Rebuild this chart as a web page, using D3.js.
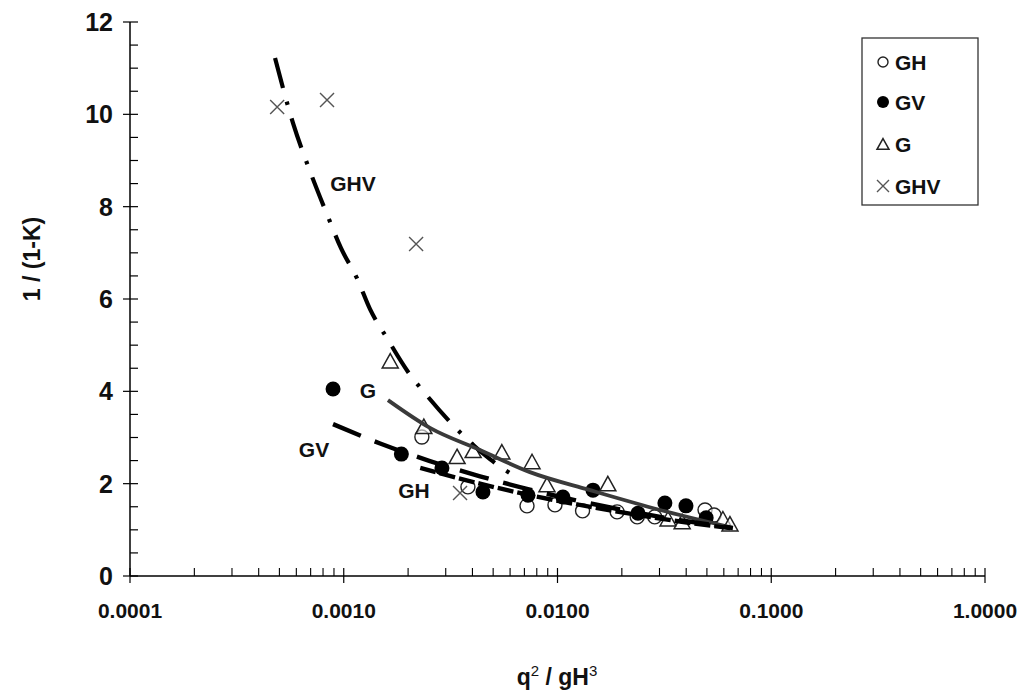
<!DOCTYPE html>
<html>
<head>
<meta charset="utf-8">
<script src="https://cdn.jsdelivr.net/npm/d3@7"></script>
<style>
  html, body { margin: 0; padding: 0; background: #fff; }
  svg text { font-family: "Liberation Sans", Arial, sans-serif; font-weight: bold; fill: #111; }
</style>
</head>
<body>
<svg id="chart" width="1023" height="691"></svg>
<script>
// ---- data ----
const ghX = [0.00232, 0.00381, 0.0072, 0.00973, 0.0131, 0.019, 0.0236, 0.0285, 0.049, 0.054];
const ghY = [3.01, 1.93, 1.52, 1.54, 1.41, 1.39, 1.28, 1.28, 1.43, 1.32];

const gvX = [0.000891, 0.00186, 0.00288, 0.00448, 0.00728, 0.0106, 0.01466, 0.0238, 0.0318, 0.0399, 0.0496];
const gvY = [4.05, 2.64, 2.34, 1.82, 1.75, 1.71, 1.86, 1.36, 1.58, 1.52, 1.26];

const gX = [0.00165, 0.00237, 0.00339, 0.00403, 0.00549, 0.0076, 0.00893, 0.0172, 0.0329, 0.0383, 0.0594, 0.0641];
const gY = [4.63, 3.21, 2.56, 2.69, 2.66, 2.45, 1.95, 1.97, 1.21, 1.15, 1.21, 1.10];

const ghvX = [0.000488, 0.000835, 0.00218, 0.0035];
const ghvY = [10.16, 10.31, 7.19, 1.80];

// trend curves
const ghvFitX = [0.000477, 0.000579, 0.000695, 0.000844, 0.000971, 0.001153, 0.001327, 0.001594, 0.0020, 0.002478, 0.00361, 0.00483, 0.00653];
const ghvFitY = [11.22, 9.81, 8.77, 7.78, 7.10, 6.45, 5.78, 5.15, 4.42, 3.88, 3.05, 2.53, 2.12];

const gFitX = [0.00161, 0.00253, 0.00434, 0.00743, 0.0142, 0.0302, 0.0641];
const gFitY = [3.81, 3.21, 2.73, 2.25, 1.86, 1.43, 1.06];

const gvFitX = [0.000891, 0.00148, 0.00253, 0.00434, 0.00743, 0.01273, 0.0218, 0.0374, 0.0662];
const gvFitY = [3.29, 2.87, 2.49, 2.16, 1.87, 1.62, 1.40, 1.21, 1.04];

const ghFitX = [0.00228, 0.00434, 0.00743, 0.01273, 0.0218, 0.0374, 0.0662];
const ghFitY = [2.34, 2.00, 1.75, 1.54, 1.35, 1.18, 1.03];

const xTickVals = [0.0001, 0.001, 0.01, 0.1, 1];
const xTickLabels = ["0.0001", "0.0010", "0.0100", "0.1000", "1.0000"];
const yTickVals = [0, 2, 4, 6, 8, 10, 12];
const legendNames = ["GH", "GV", "G", "GHV"];
const curveLabels = ["GHV", "G", "GV", "GH"];

// ---- layout ----
const svg = d3.select("#chart");
const L = 130, R = 985, T = 22, B = 576;
const x = d3.scaleLog().domain([0.0001, 1]).range([L, R]);
const y = d3.scaleLinear().domain([0, 12]).range([B, T]);

const zip = (a, b) => a.map((v, i) => [v, b[i]]);
const line = d3.line().x(d => x(d[0])).y(d => y(d[1])).curve(d3.curveMonotoneX);

// ---- axes ----
const ax = svg.append("g");
ax.append("line").attr("x1", L).attr("x2", L).attr("y1", T).attr("y2", B).attr("stroke", "#000").attr("stroke-width", 1.5);
d3.range(0, 12.01, 0.5).forEach(v => {
  const major = Math.abs(v % 2) < 1e-9;
  ax.append("line").attr("x1", major ? L - 7 : L).attr("x2", L + 8)
    .attr("y1", y(v)).attr("y2", y(v)).attr("stroke", "#000").attr("stroke-width", 1.2);
});
ax.selectAll(".yl").data(yTickVals).enter().append("text")
  .attr("x", L - 17).attr("y", d => y(d) + 9).attr("text-anchor", "end")
  .attr("font-size", 25).text(d => d);

ax.append("line").attr("x1", L).attr("x2", R).attr("y1", B).attr("y2", B).attr("stroke", "#000").attr("stroke-width", 1.5);
const minorX = [];
for (let e = -4; e < 0; e++) for (let m = 2; m <= 9; m++) minorX.push(m * Math.pow(10, e));
ax.selectAll(".xm").data(minorX).enter().append("line")
  .attr("x1", d => x(d)).attr("x2", d => x(d)).attr("y1", B).attr("y2", B - 8)
  .attr("stroke", "#000").attr("stroke-width", 1.1);
ax.selectAll(".xM").data(xTickVals).enter().append("line")
  .attr("x1", d => x(d)).attr("x2", d => x(d)).attr("y1", B - 8).attr("y2", B + 7)
  .attr("stroke", "#000").attr("stroke-width", 1.2);
ax.selectAll(".xl").data(xTickVals).enter().append("text")
  .attr("x", d => x(d)).attr("y", B + 42).attr("text-anchor", "middle")
  .attr("font-size", 21).text((d, i) => xTickLabels[i]);

svg.append("text").attr("transform", `translate(40,${(T + B) / 2 - 40}) rotate(-90)`)
  .attr("text-anchor", "middle").attr("font-size", 23).text("1 / (1-K)");
const xt = svg.append("text").attr("x", 557).attr("y", 685).attr("text-anchor", "middle").attr("font-size", 23);
xt.append("tspan").text("q");
xt.append("tspan").attr("dy", -9).attr("font-size", 15).attr("font-weight", "normal").text("2");
xt.append("tspan").attr("dy", 9).text(" / gH");
xt.append("tspan").attr("dy", -9).attr("font-size", 15).attr("font-weight", "normal").text("3");

// ---- markers ----
const pts = svg.append("g");
function circleOpen(g, px, py, r) {
  g.append("circle").attr("cx", px).attr("cy", py).attr("r", r).attr("fill", "#fff").attr("fill-opacity", 0.6).attr("stroke", "#222").attr("stroke-width", 1.4);
}
function circleFilled(g, px, py, r) {
  g.append("circle").attr("cx", px).attr("cy", py).attr("r", r).attr("fill", "#000");
}
function triangle(g, px, py, s) {
  const h = s * 0.9;
  g.append("path").attr("d", `M${px},${py - h * 0.6}L${px + s / 2},${py + h * 0.4}L${px - s / 2},${py + h * 0.4}Z`)
    .attr("fill", "#fff").attr("fill-opacity", 0.6).attr("stroke", "#222").attr("stroke-width", 1.5);
}
function cross(g, px, py, s) {
  g.append("path").attr("d", `M${px - s},${py - s}L${px + s},${py + s}M${px - s},${py + s}L${px + s},${py - s}`)
    .attr("stroke", "#555").attr("stroke-width", 1.4).attr("fill", "none");
}

// ---- trend curves ----
const cv = svg.append("g").attr("fill", "none").attr("stroke-linecap", "butt");
cv.append("path").attr("d", line(zip(ghvFitX, ghvFitY))).attr("stroke", "#000").attr("stroke-width", 4.2).attr("stroke-dasharray", "31,14,3.5,14");
cv.append("path").attr("d", line(zip(gFitX, gFitY))).attr("stroke", "#3a3a3a").attr("stroke-width", 3.8);
cv.append("path").attr("d", line(zip(gvFitX, gvFitY))).attr("stroke", "#000").attr("stroke-width", 4.4).attr("stroke-dasharray", "30,15");
cv.append("path").attr("d", line(zip(ghFitX, ghFitY))).attr("stroke", "#000").attr("stroke-width", 4.4).attr("stroke-dasharray", "16,4");

zip(ghX, ghY).forEach(d => circleOpen(pts, x(d[0]), y(d[1]), 7));
zip(gvX, gvY).forEach(d => circleFilled(pts, x(d[0]), y(d[1]), 7.5));
zip(gX, gY).forEach(d => triangle(pts, x(d[0]), y(d[1]), 16));
zip(ghvX, ghvY).forEach(d => cross(pts, x(d[0]), y(d[1]), 7));

const lblPos = [[353, 191], [368, 398], [314, 457], [414, 498]];
curveLabels.forEach((t, i) => {
  svg.append("text").attr("x", lblPos[i][0]).attr("y", lblPos[i][1]).attr("text-anchor", "middle").attr("font-size", 21).text(t);
});

// ---- legend ----
const lg = svg.append("g");
lg.append("rect").attr("x", 862).attr("y", 38).attr("width", 116).attr("height", 167).attr("fill", "#fff").attr("stroke", "#333").attr("stroke-width", 1.3);
const rowY = [62, 102, 144, 186];
legendNames.forEach((n, i) => {
  const mx = 883, my = rowY[i];
  if (i === 0) circleOpen(lg, mx, my, 5);
  if (i === 1) circleFilled(lg, mx, my, 6);
  if (i === 2) triangle(lg, mx, my + 1, 12);
  if (i === 3) cross(lg, mx, my, 6);
  lg.append("text").attr("x", 895).attr("y", my + 8).attr("font-size", 21).text(n);
});
</script>
</body>
</html>
